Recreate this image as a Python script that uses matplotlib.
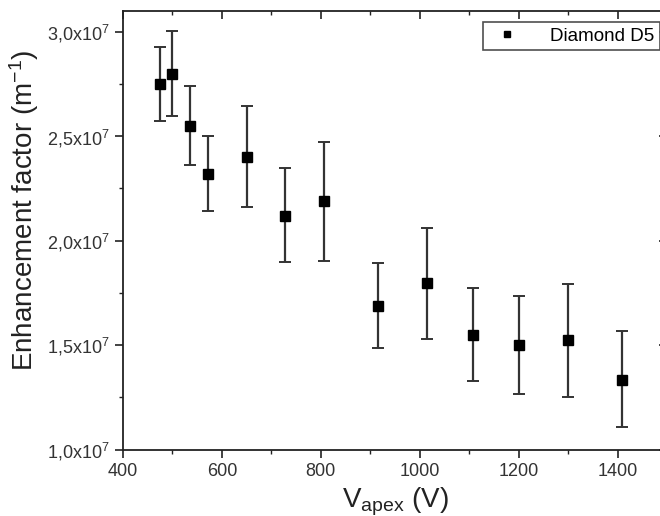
import matplotlib
matplotlib.use("Agg")
import matplotlib.pyplot as plt
from matplotlib.lines import Line2D
from matplotlib.ticker import MultipleLocator, FuncFormatter

plt.rcParams['font.family'] = ['Liberation Sans', 'DejaVu Sans']
plt.rcParams['mathtext.fontset'] = 'custom'
plt.rcParams['mathtext.rm'] = 'Liberation Sans'
plt.rcParams['mathtext.it'] = 'Liberation Sans:italic'

series_label = "Diamond D5"
v_apex = [475, 500, 535, 572, 651, 728, 807, 916, 1014, 1108, 1201, 1300, 1410]
enhancement = [2.750e7, 2.800e7, 2.550e7, 2.320e7, 2.402e7, 2.120e7, 2.191e7,
               1.689e7, 1.799e7, 1.550e7, 1.499e7, 1.523e7, 1.335e7]
err_upper = [0.178e7, 0.204e7, 0.190e7, 0.179e7, 0.243e7, 0.226e7, 0.282e7,
             0.203e7, 0.264e7, 0.225e7, 0.236e7, 0.268e7, 0.231e7]
err_lower = [0.179e7, 0.203e7, 0.187e7, 0.177e7, 0.239e7, 0.224e7, 0.286e7,
             0.203e7, 0.268e7, 0.223e7, 0.234e7, 0.271e7, 0.229e7]

fig = plt.figure(figsize=(6.6, 5.16), dpi=100)
ax = fig.add_axes([123/660, 1-449.5/516, (667-123)/660, (449.5-11)/516])

ax.errorbar(v_apex, enhancement, yerr=[err_lower, err_upper], fmt='s',
            color='black', ms=6.5, ecolor='#333333', elinewidth=1.6,
            capsize=4, capthick=1.4)

ax.set_xlim(400, 1500)
ax.set_ylim(1.0e7, 3.1e7)
ax.xaxis.set_major_locator(MultipleLocator(200))
ax.xaxis.set_minor_locator(MultipleLocator(100))
ax.yaxis.set_major_locator(MultipleLocator(0.5e7))
ax.yaxis.set_minor_locator(MultipleLocator(0.25e7))

def yfmt(v, pos):
    s = f"{v/1e7:.1f}".replace('.', ',')
    return s + r"x10$^{7}$"
ax.yaxis.set_major_formatter(FuncFormatter(yfmt))

for sp in ax.spines.values():
    sp.set_linewidth(1.3)
    sp.set_color('#222222')

ax.tick_params(axis='both', which='major', direction='out', length=6, width=1.2,
               labelsize=13, colors='#222222', labelcolor='#333333')
ax.tick_params(axis='both', which='minor', direction='out', length=3, width=1.0,
               colors='#222222')
ax.tick_params(top=True, right=True, which='both')
# top and right ticks point inward
for t in ax.xaxis.get_major_ticks() + ax.xaxis.get_minor_ticks():
    t.tick2line.set_marker(3)  # TICKDOWN
for t in ax.yaxis.get_major_ticks() + ax.yaxis.get_minor_ticks():
    t.tick2line.set_marker(0)  # TICKLEFT

ax.set_xlabel(r"V$_{\mathrm{apex}}$ (V)", fontsize=20, color='#222222', labelpad=4)
ax.set_ylabel(r"Enhancement factor (m$^{-1}$)", fontsize=20, color='#222222')
ax.yaxis.set_label_coords(-0.150, 0.545)

proxy = Line2D([], [], linestyle='none', marker='s', ms=5, color='black')
leg = ax.legend([proxy], [series_label], loc='upper right',
                bbox_to_anchor=(660/660, 1-22/516),
                bbox_transform=fig.transFigure, borderaxespad=0, fontsize=13.5,
                frameon=True, fancybox=False, edgecolor='#222222',
                handlelength=2.0, handletextpad=1.3, borderpad=0.3)
leg.get_frame().set_linewidth(1.2)

fig.savefig("out.png", dpi=100)
